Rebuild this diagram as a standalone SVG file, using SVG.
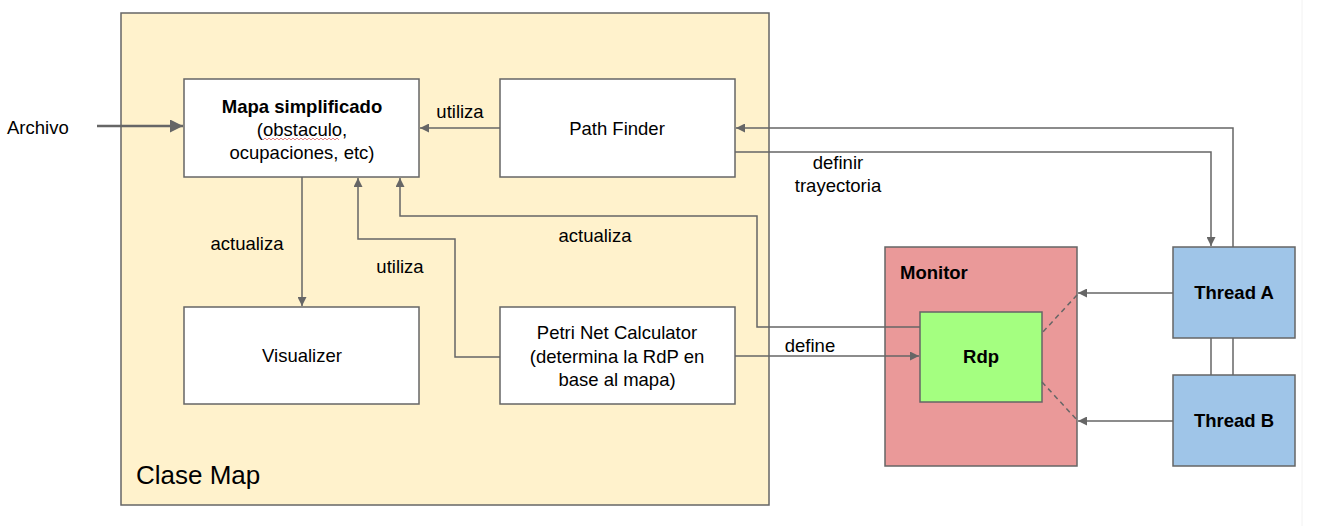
<svg xmlns="http://www.w3.org/2000/svg" width="1322" height="526" viewBox="0 0 1322 526">
<style>
text{font-family:"Liberation Sans",Arial,sans-serif;font-size:18.5px;fill:#000;}
.b{font-weight:bold;}
.c{text-anchor:middle;}
.box{fill:#fff;stroke:#666;stroke-width:1.5;}
.ln{fill:none;stroke:#666;stroke-width:1.5;}
</style>
<defs>
<marker id="ah" viewBox="0 0 10 10" refX="10" refY="5" markerWidth="10" markerHeight="9" markerUnits="userSpaceOnUse" orient="auto"><path d="M0,0 L10,5 L0,10 z" fill="#666"/></marker>
<marker id="ah2" viewBox="0 0 10 10" refX="10" refY="5" markerWidth="15" markerHeight="13" markerUnits="userSpaceOnUse" orient="auto"><path d="M0,0 L10,5 L0,10 z" fill="#666"/></marker>
</defs>
<rect width="1322" height="526" fill="#fff"/>
<line x1="1302" y1="0" x2="1302" y2="526" stroke="#f2f2f2" stroke-width="1"/>
<g id="clase-map">
<rect x="121" y="13" width="648" height="492" fill="#fff2cc" stroke="#666" stroke-width="1.5"/>
<text x="136" y="484" style="font-size:26px">Clase Map</text>
</g>
<g id="mapa">
<rect class="box" x="184" y="79" width="235" height="98"/>
<text class="c b" x="302" y="113">Mapa simplificado</text>
<text class="c" x="302" y="136">(obstaculo,</text>
<text class="c" x="302" y="159">ocupaciones, etc)</text>
<path d="M263,140 l2,-2 l2,2 l2,-2 l2,2 l2,-2 l2,2 l2,-2 l2,2 l2,-2 l2,2 l2,-2 l2,2 l2,-2 l2,2 l2,-2 l2,2 l2,-2 l2,2 l2,-2 l2,2 l2,-2 l2,2 l2,-2 l2,2 l2,-2 l2,2 l2,-2 l2,2 l2,-2 l2,2 l2,-2 l2,2 l2,-2 l2,2 l2,-2 l2,2 l2,-2 l2,2" fill="none" stroke="#e06666" stroke-width="0.8"/>
</g>
<g id="path-finder">
<rect class="box" x="500" y="79" width="235" height="98"/>
<text class="c" x="617" y="135">Path Finder</text>
</g>
<g id="visualizer">
<rect class="box" x="184" y="307" width="235" height="97"/>
<text class="c" x="302" y="362">Visualizer</text>
</g>
<g id="petri">
<rect class="box" x="500" y="307" width="235" height="97"/>
<text class="c" x="617" y="339">Petri Net Calculator</text>
<text class="c" x="617" y="363">(determina la RdP en</text>
<text class="c" x="617" y="386">base al mapa)</text>
</g>
<g id="monitor">
<rect x="885" y="247" width="192" height="219" fill="#ea9999" stroke="#666" stroke-width="1.5"/>
<text class="b" x="900" y="279">Monitor</text>
</g>
<g id="rdp">
<rect x="920" y="312" width="122" height="90" fill="#a4ff80" stroke="#666" stroke-width="1.5"/>
<text class="c b" x="981" y="363">Rdp</text>
</g>
<g id="thread-a">
<rect x="1173" y="247" width="122" height="91" fill="#9fc5e8" stroke="#666" stroke-width="1.5"/>
<text class="c b" x="1234" y="299">Thread A</text>
</g>
<g id="thread-b">
<rect x="1173" y="375" width="122" height="91" fill="#9fc5e8" stroke="#666" stroke-width="1.5"/>
<text class="c b" x="1234" y="427">Thread B</text>
</g>
<g id="connectors">
<text x="7" y="134">Archivo</text>
<line x1="97" y1="126" x2="183" y2="126" stroke="#666" stroke-width="2.5" marker-end="url(#ah2)"/>
<line class="ln" x1="500" y1="128" x2="420" y2="128" marker-end="url(#ah)"/>
<text class="c" x="460" y="118">utiliza</text>
<line class="ln" x1="302" y1="177" x2="302" y2="306" marker-end="url(#ah)"/>
<text class="c" x="247" y="250">actualiza</text>
<polyline class="ln" points="500,357 455,357 455,239 358,239 358,178" marker-end="url(#ah)"/>
<text class="c" x="400" y="273">utiliza</text>
<polyline class="ln" points="920,327 757,327 757,216 400,216 400,178" marker-end="url(#ah)"/>
<text class="c" x="595" y="242">actualiza</text>
<line class="ln" x1="735" y1="356" x2="919" y2="356" marker-end="url(#ah)"/>
<text class="c" x="810" y="352">define</text>
<polyline class="ln" points="1233,247 1233,128 736,128" marker-end="url(#ah)"/>
<polyline class="ln" points="735,152 1211,152 1211,246" marker-end="url(#ah)"/>
<text class="c" x="838" y="169">definir</text>
<text class="c" x="838" y="192">trayectoria</text>
<line class="ln" x1="1211" y1="338" x2="1211" y2="375"/>
<line class="ln" x1="1233" y1="338" x2="1233" y2="375"/>
<line class="ln" x1="1173" y1="293" x2="1078" y2="293" marker-end="url(#ah)"/>
<line class="ln" x1="1173" y1="421" x2="1078" y2="421" marker-end="url(#ah)"/>
<line class="ln" x1="1077" y1="295" x2="1042" y2="333" stroke-dasharray="5,4"/>
<line class="ln" x1="1042" y1="382" x2="1077" y2="420" stroke-dasharray="5,4"/>
</g>
</svg>
